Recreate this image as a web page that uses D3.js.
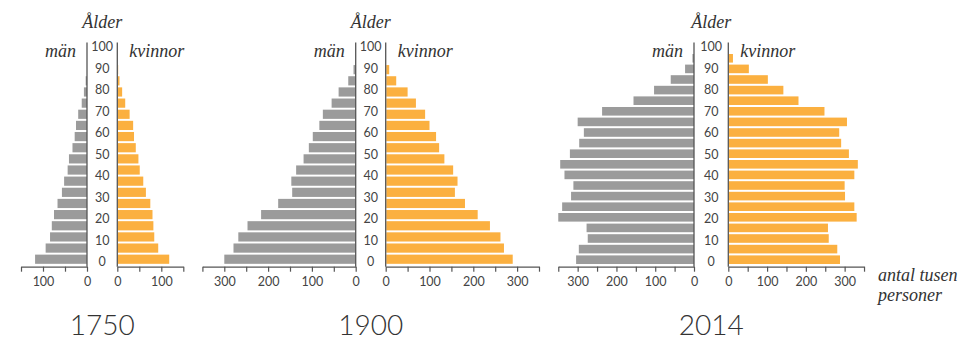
<!DOCTYPE html>
<html>
<head>
<meta charset="utf-8">
<script src="https://cdn.jsdelivr.net/npm/d3@7"></script>
<style>
  html, body { margin: 0; padding: 0; background: #fff; }
  svg { display: block; }
</style>
</head>
<body>
<svg id="chart" width="963" height="342"></svg>
<script>
// ---- data (thousands of persons) ----
const ages18 = [0,5,10,15,20,25,30,35,40,45,50,55,60,65,70,75,80,85];
const ages20 = [0,5,10,15,20,25,30,35,40,45,50,55,60,65,70,75,80,85,90,95];

const men1750   = [118,94,84,80,75,67,57,52,44,41,33,28,25,20,12,7,3,0];
const women1750 = [118,93,84,82,80,75,65,59,51,48,42,38,36,28,18,11,5,2];

const men1900   = [300,279,268,247,216,177,145,147,136,119,107,98,83,75,55,39,17,5];
const women1900 = [290,270,262,238,210,181,158,164,154,134,122,115,100,90,69,50,24,8];

const men2014   = [304,297,274,277,350,340,317,311,334,345,320,296,284,300,237,156,103,60,23,4];
const women2014 = [288,281,259,257,331,325,301,300,325,334,311,291,286,306,248,181,142,102,53,12];

const years = ["1750","1900","2014"];
const ageTicks = [0,10,20,30,40,50,60,70,80,90,100];
const tickVals150 = [0,50,100,150];
const tickVals350 = [0,50,100,150,200,250,300,350];

const panels = [
  {year: years[0], ages: ages18, men: men1750, women: women1750, max: 150, ticks: tickVals150,
   xl0: 87, xr0: 117.3, k: 0.44, bandBottom: 264.8, step: 11.15, barH: 9.2},
  {year: years[1], ages: ages18, men: men1900, women: women1900, max: 350, ticks: tickVals350,
   xl0: 355.7, xr0: 385.7, k: 0.438, bandBottom: 264.8, step: 11.15, barH: 9.2},
  {year: years[2], ages: ages20, men: men2014, women: women2014, max: 350, ticks: tickVals350,
   xl0: 694, xr0: 728.3, k: 0.3878, bandBottom: 265, step: 10.6, barH: 8.6}
];

const GRAY = "#9b9b9b", ORANGE = "#fbb040", AXIS = "#555";
const svg = d3.select("#chart");
const serif = "'Liberation Serif', 'Times New Roman', serif";
const sans = "Lato, 'Open Sans', sans-serif";

const axisTop = 42.5, axisBottom = 266.7;
const ageScale = d3.scaleLinear().domain([0,100]).range([261.5, 46.5]);

panels.forEach(p => {
  const g = svg.append("g");
  const xL = d3.scaleLinear().domain([0, p.max]).range([p.xl0, p.xl0 - p.max * p.k]);
  const xR = d3.scaleLinear().domain([0, p.max]).range([p.xr0, p.xr0 + p.max * p.k]);
  const n = p.ages.length;
  const pad = 1 - p.barH / p.step;
  const y = d3.scaleBand().domain(p.ages)
    .range([p.bandBottom, p.bandBottom - n * p.step])
    .paddingInner(pad).paddingOuter(pad / 2);
  const cx = (p.xl0 + p.xr0) / 2;

  // bars
  g.selectAll(".m").data(p.ages.map((a,i) => ({a, v: p.men[i]}))).join("rect")
    .attr("x", d => xL(d.v)).attr("width", d => xL(0) - xL(d.v))
    .attr("y", d => y(d.a)).attr("height", y.bandwidth())
    .attr("fill", GRAY);
  g.selectAll(".f").data(p.ages.map((a,i) => ({a, v: p.women[i]}))).join("rect")
    .attr("x", xR(0) + 0.6).attr("width", d => Math.max(0, xR(d.v) - xR(0) - 0.6))
    .attr("y", d => y(d.a)).attr("height", y.bandwidth())
    .attr("fill", ORANGE);

  // vertical axis lines
  [p.xl0, p.xr0].forEach(x => {
    g.append("line").attr("x1", x).attr("x2", x).attr("y1", axisTop).attr("y2", axisBottom)
      .attr("stroke", AXIS).attr("stroke-width", 1.3);
  });

  // bottom axes
  [xL, xR].forEach(sc => {
    const ax = d3.axisBottom(sc).tickValues(p.ticks).tickSize(5).tickSizeOuter(0)
      .tickPadding(5.5).tickFormat(d => d % 100 === 0 ? d : "");
    const ag = g.append("g").attr("transform", `translate(0,${axisBottom})`).call(ax);
    ag.select(".domain").attr("stroke", AXIS).attr("stroke-width", 1.3);
    ag.selectAll(".tick line").attr("stroke", AXIS).attr("stroke-width", 1.2);
    ag.selectAll("text").attr("fill", "#444").style("font-family", sans).style("font-size", "12.5px");
  });

  // age labels
  g.selectAll(".age").data(ageTicks).join("text")
    .attr("x", cx).attr("y", d => ageScale(d)).attr("dy", "0.36em")
    .attr("text-anchor", "middle").attr("fill", "#444")
    .style("font-family", sans).style("font-size", "12.5px").text(d => d);

  // titles
  g.append("text").attr("x", cx).attr("y", 28).attr("text-anchor", "middle")
    .attr("fill", "#333").style("font-family", serif).style("font-style", "italic")
    .style("font-size", "18px").text("Ålder");
  g.append("text").attr("x", p.xl0 - 11).attr("y", 57).attr("text-anchor", "end")
    .attr("fill", "#333").style("font-family", serif).style("font-style", "italic")
    .style("font-size", "18px").text("män");
  g.append("text").attr("x", p.xr0 + 12).attr("y", 57).attr("text-anchor", "start")
    .attr("fill", "#333").style("font-family", serif).style("font-style", "italic")
    .style("font-size", "18px").text("kvinnor");

  // year
  g.append("text").attr("x", cx).attr("y", 335).attr("text-anchor", "middle")
    .attr("fill", "#333").style("font-family", sans).style("font-weight", 300)
    .style("font-size", "28px").text(p.year);
});

// unit label
const unit = svg.append("text").attr("x", 878).attr("y", 281)
  .attr("fill", "#333").style("font-family", serif).style("font-style", "italic")
  .style("font-size", "18px");
unit.append("tspan").attr("x", 878).attr("y", 281).text("antal tusen");
unit.append("tspan").attr("x", 878).attr("y", 301).text("personer");
</script>
</body>
</html>
